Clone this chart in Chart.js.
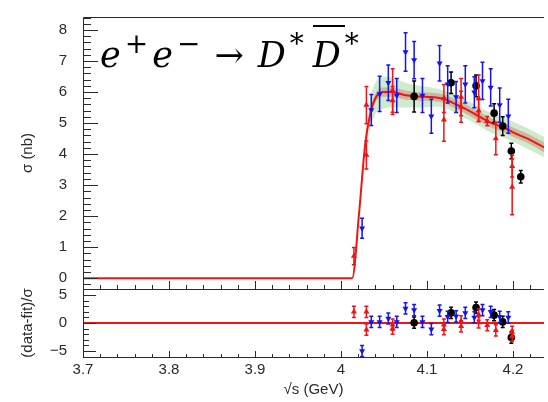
<!DOCTYPE html>
<html>
<head>
<meta charset="utf-8">
<script src="https://cdn.jsdelivr.net/npm/chart.js@4.4.0/dist/chart.umd.min.js"></script>
<style>
  body { margin: 0; background: #fff; }
  #wrap { position: relative; width: 548px; height: 402px; overflow: hidden; }
  canvas { position: absolute; left: 0; top: 0; }
  #title { position: absolute; left: 100px; top: 38px; font: italic 35px "DejaVu Serif", serif; white-space: nowrap; color: #000; line-height: 1; letter-spacing: 4px; }
  #title sup { font-size: 0.8em; vertical-align: 0.5em; line-height: 0; }
  #title .arr { font-style: normal; margin: 0 10px; }
  #title .bar { display: inline-block; border-top: 2.5px solid #000; padding-top: 11px; margin-top: -14px; line-height: 1; margin-left: 5px; }
</style>
</head>
<body>
<div id="wrap">
  <canvas id="xsec" width="548" height="402"></canvas>
  <canvas id="pull" width="548" height="402"></canvas>
  <div id="title">e<sup>+</sup>e<sup>−</sup><span class="arr">→</span>D<sup>*</sup><span class="bar">D</span><sup>*</sup></div>
</div>
<script>
// axis ranges / ticks
const xMin = 3.7, xMax = 4.236;
const xTickLabels = ['3.7', '3.8', '3.9', '4', '4.1', '4.2'];

// red points (triangles up)
const redE    = [4.015, 4.0295, 4.0295, 4.060, 4.060, 4.1196, 4.1196, 4.1396, 4.1396, 4.160, 4.160, 4.170, 4.180, 4.199, 4.199];
const redSig  = [0.71, 5.58, 3.97, 6.05, 5.73, 5.79, 5.11, 5.84, 5.53, 5.8, 5.4, 5.06, 4.5, 3.61, 2.94];
const redErr  = [0.28, 0.6, 0.45, 0.7, 0.45, 0.45, 0.7, 0.6, 0.5, 0.75, 0.35, 0.15, 0.52, 0.35, 0.9];
const redPull = [2.0, 2.0, -1.2, -0.3, -1.0, -0.3, -1.1, 0.3, -0.6, 1.5, 0.1, -0.4, -1.3, -1.6, -2.3];

// blue points (triangles down)
const blueE    = [4.0245, 4.0352, 4.0449, 4.055, 4.0648, 4.075, 4.085, 4.0947, 4.105, 4.1146, 4.124, 4.1338, 4.1445, 4.155, 4.1645, 4.174, 4.1845, 4.1945];
const blueSig  = [1.61, 5.42, 5.94, 6.3, 5.89, 7.29, 7.03, 5.89, 5.22, 6.93, 6.25, 5.84, 6.25, 5.99, 6.36, 6.15, 5.58, 5.22];
const blueErr  = [0.32, 0.5, 0.57, 0.57, 0.55, 0.62, 0.6, 0.55, 0.55, 0.57, 0.6, 0.5, 0.6, 0.5, 0.6, 0.6, 0.55, 0.55];
const bluePull = [-5.0, 0.2, 0.2, 0.8, 0.2, 2.6, 2.3, 0.2, -1.1, 2.2, 1.1, 1.2, 1.8, 1.0, 2.3, 2.0, 1.1, 1.0];

// black points (circles)
const blackE    = [4.085, 4.128, 4.157, 4.178, 4.188, 4.198, 4.209];
const blackSig  = [5.86, 6.3, 6.2, 5.32, 4.9, 4.1, 3.27];
const blackErr  = [0.5, 0.35, 0.35, 0.3, 0.3, 0.25, 0.2];
const blackPullE = [4.085, 4.128, 4.157, 4.178, 4.188, 4.198];
const blackPull  = [0.05, 1.8, 2.75, 1.4, 0.2, -2.6];

// fit curve
const fitE   = [3.70, 4.013, 4.021, 4.028, 4.034, 4.040, 4.048, 4.060, 4.075, 4.090, 4.105, 4.120, 4.130, 4.140, 4.150, 4.160, 4.175, 4.190, 4.200, 4.215, 4.236];
const fitSig = [0, 0, 2.1, 4.3, 5.3, 5.8, 6.0, 6.0, 5.9, 5.86, 5.84, 5.78, 5.65, 5.52, 5.38, 5.22, 5.0, 4.85, 4.7, 4.52, 4.22];

// uncertainty bands
const bandE   = [4.028, 4.034, 4.040, 4.048, 4.060, 4.075, 4.090, 4.105, 4.120, 4.130, 4.140, 4.150, 4.160, 4.175, 4.190, 4.200, 4.215, 4.236];
const greenHi = [4.5, 5.8, 6.3, 6.5, 6.45, 6.3, 6.2, 6.15, 6.05, 5.95, 5.82, 5.68, 5.53, 5.32, 5.17, 5.04, 4.86, 4.56];
const greenLo = [4.1, 4.8, 5.3, 5.45, 5.5, 5.5, 5.5, 5.53, 5.5, 5.37, 5.22, 5.08, 4.92, 4.68, 4.53, 4.4, 4.2, 3.9];
const brownHi = [4.4, 5.45, 5.95, 6.15, 6.15, 6.05, 6.0, 5.98, 5.92, 5.8, 5.67, 5.53, 5.37, 5.15, 5.0, 4.86, 4.68, 4.38];
const brownLo = [4.2, 5.15, 5.65, 5.85, 5.85, 5.75, 5.72, 5.7, 5.64, 5.5, 5.37, 5.23, 5.07, 4.85, 4.7, 4.56, 4.38, 4.06];

const RED = 'rgb(240,20,20)', BLUE = 'rgb(20,20,235)', BLACK = '#000';
const AXIS = '#2a2a2a';
const tickFont = { family: '"Liberation Sans", Arial, sans-serif', size: 15 };

function pts(xs, ys) { return xs.map((x, i) => ({ x: x, y: ys[i] })); }

// error bars for point datasets
const errorBars = {
  id: 'errorBars',
  afterDatasetDraw(chart, args) {
    const ds = chart.data.datasets[args.index];
    if (!ds.errs) return;
    const xs = chart.scales.x, ys = chart.scales.y, ctx = chart.ctx, a = chart.chartArea;
    ctx.save();
    ctx.beginPath();
    ctx.rect(a.left, a.top, a.right - a.left, a.bottom - a.top);
    ctx.clip();
    ctx.strokeStyle = ds.borderColor;
    ctx.lineWidth = 1.5;
    ds.data.forEach((p, i) => {
      const px = xs.getPixelForValue(p.x);
      const y1 = ys.getPixelForValue(p.y + ds.errs[i]);
      const y2 = ys.getPixelForValue(p.y - ds.errs[i]);
      ctx.beginPath();
      ctx.moveTo(px, y1); ctx.lineTo(px, y2);
      ctx.moveTo(px - 2, y1); ctx.lineTo(px + 2, y1);
      ctx.moveTo(px - 2, y2); ctx.lineTo(px + 2, y2);
      ctx.stroke();
    });
    ctx.restore();
  }
};

// ROOT-like frame with inward ticks
const frame = {
  id: 'frame',
  afterDraw(chart, args, o) {
    const ctx = chart.ctx, a = chart.chartArea;
    const xs = chart.scales.x, ys = chart.scales.y;
    ctx.save();
    ctx.strokeStyle = AXIS;
    ctx.lineWidth = 1;
    ctx.beginPath();
    ctx.moveTo(a.right, a.top + 0.5); ctx.lineTo(a.left + 0.5, a.top + 0.5);
    ctx.lineTo(a.left + 0.5, a.bottom + 0.5); ctx.lineTo(a.right, a.bottom + 0.5);
    ctx.stroke();
    ctx.beginPath();
    for (let k = Math.ceil(xs.min / o.xMinor - 1e-6); k * o.xMinor <= xs.max + 1e-9; k++) {
      const v = k * o.xMinor;
      const major = Math.abs(v / o.xMajor - Math.round(v / o.xMajor)) < 1e-6;
      const px = Math.round(xs.getPixelForValue(v)) + 0.5;
      ctx.moveTo(px, a.bottom);
      ctx.lineTo(px, a.bottom - (major ? o.xLen[0] : o.xLen[1]));
    }
    for (let k = Math.ceil(ys.min / o.yMinor - 1e-6); k * o.yMinor <= ys.max + 1e-9; k++) {
      const v = k * o.yMinor;
      const major = Math.abs(v / o.yMajor - Math.round(v / o.yMajor)) < 1e-6;
      const py = Math.round(ys.getPixelForValue(v)) + 0.5;
      ctx.moveTo(a.left, py);
      ctx.lineTo(a.left + (major ? o.yLen[0] : o.yLen[1]), py);
    }
    ctx.stroke();
    ctx.restore();
  }
};

function pointSets(which) {
  const top = which === 'top';
  return [
    { label: 'red', data: top ? pts(redE, redSig) : pts(redE, redPull), errs: top ? redErr : redE.map(() => 1),
      showLine: false, pointStyle: 'triangle', pointRadius: 3.5, backgroundColor: RED, borderColor: RED, borderWidth: 0, order: 0 },
    { label: 'blue', data: top ? pts(blueE, blueSig) : pts(blueE, bluePull), errs: top ? blueErr : blueE.map(() => 1),
      showLine: false, pointStyle: 'triangle', rotation: 180, pointRadius: 3.5, backgroundColor: BLUE, borderColor: BLUE, borderWidth: 0, order: 0 },
    { label: 'black', data: top ? pts(blackE, blackSig) : pts(blackPullE, blackPull), errs: top ? blackErr : blackPullE.map(() => 1),
      showLine: false, pointStyle: 'circle', pointRadius: 3.8, backgroundColor: BLACK, borderColor: BLACK, borderWidth: 0, order: 0 }
  ];
}

const xTicks = {
  stepSize: 0.1, includeBounds: false, font: tickFont, color: AXIS, padding: -4, maxRotation: 0,
  callback: v => { const s = String(+v.toFixed(2)); return xTickLabels.includes(s) ? s : ''; }
};

new Chart(document.getElementById('xsec'), {
  type: 'line',
  data: {
    datasets: pointSets('top').concat([
      { label: 'fit', data: pts(fitE, fitSig), borderColor: RED, borderWidth: 2, pointRadius: 0, cubicInterpolationMode: 'monotone', fill: false, order: 1 },
      { label: 'inner hi', data: pts(bandE, brownHi), borderWidth: 0, pointRadius: 0, cubicInterpolationMode: 'monotone', fill: '+1', backgroundColor: 'rgba(205,120,100,0.45)', order: 2 },
      { label: 'inner lo', data: pts(bandE, brownLo), borderWidth: 0, pointRadius: 0, cubicInterpolationMode: 'monotone', fill: false, order: 2 },
      { label: 'outer hi', data: pts(bandE, greenHi), borderWidth: 0, pointRadius: 0, cubicInterpolationMode: 'monotone', fill: '+1', backgroundColor: 'rgba(160,215,160,0.5)', order: 3 },
      { label: 'outer lo', data: pts(bandE, greenLo), borderWidth: 0, pointRadius: 0, cubicInterpolationMode: 'monotone', fill: false, order: 3 }
    ])
  },
  options: {
    responsive: false, animation: false,
    layout: { padding: { top: 7, bottom: 113, left: 0, right: 0 } },
    plugins: { legend: { display: false }, tooltip: { enabled: false },
      frame: { xMajor: 0.1, xMinor: 0.02, yMajor: 1, yMinor: 0.2, xLen: [8, 4], yLen: [15, 8] } },
    scales: {
      x: { type: 'linear', min: xMin, max: xMax, display: false },
      y: { min: -0.35, max: 8.42,
        afterFit: s => { s.width = 83; },
        grid: { display: false }, border: { display: false },
        ticks: { stepSize: 1, includeBounds: false, font: tickFont, color: AXIS, padding: 8 },
        title: { display: true, text: 'σ (nb)', font: tickFont, color: AXIS, padding: { top: 19, bottom: 0 } } }
    }
  },
  plugins: [errorBars, frame]
});

new Chart(document.getElementById('pull'), {
  type: 'line',
  data: {
    datasets: pointSets('bottom').concat([
      { label: 'zero', data: pts([xMin, xMax], [0, 0]), borderColor: RED, borderWidth: 2, pointRadius: 0, fill: false, order: 1 }
    ])
  },
  options: {
    responsive: false, animation: false,
    layout: { padding: { top: 289, bottom: 0, left: 0, right: 0 } },
    plugins: { legend: { display: false }, tooltip: { enabled: false },
      frame: { xMajor: 0.1, xMinor: 0.02, yMajor: 5, yMinor: 1, xLen: [6, 3], yLen: [13, 6] } },
    scales: {
      x: { type: 'linear', min: xMin, max: xMax,
        afterFit: s => { s.height = 45; },
        grid: { display: false }, border: { display: false },
        ticks: xTicks,
        title: { display: true, text: '√s (GeV)', font: tickFont, color: AXIS, padding: { top: 0, bottom: 3 } } },
      y: { min: -6.07, max: 6.07,
        afterFit: s => { s.width = 83; },
        grid: { display: false }, border: { display: false },
        ticks: { stepSize: 5, includeBounds: false, font: tickFont, color: AXIS, padding: 8,
          callback: v => String(v).replace('-', '−') },
        title: { display: true, text: '(data-fit)/σ', font: tickFont, color: AXIS, padding: { top: 19, bottom: 0 } } }
    }
  },
  plugins: [errorBars, frame]
});
</script>
</body>
</html>
